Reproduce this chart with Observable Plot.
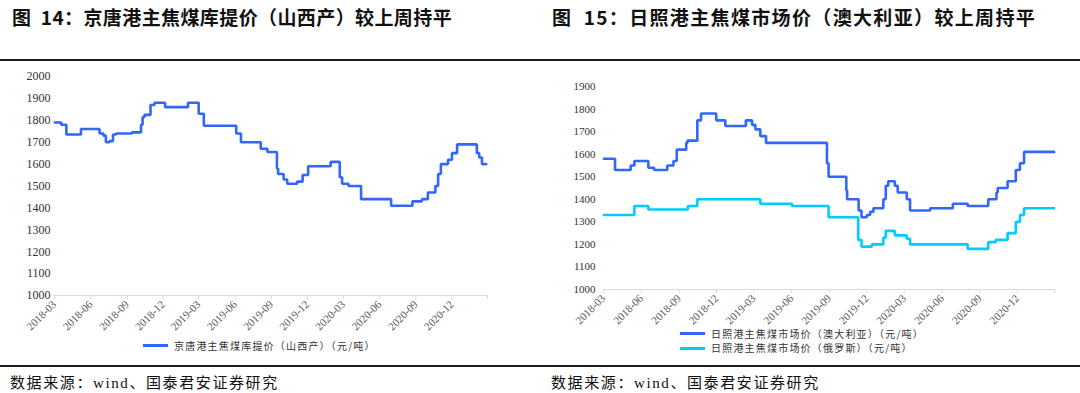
<!DOCTYPE html>
<html>
<head>
<meta charset="utf-8">
<script src="https://cdn.jsdelivr.net/npm/d3@7"></script>
<script src="https://cdn.jsdelivr.net/npm/@observablehq/plot@0.6"></script>
<style>
  html, body { margin: 0; padding: 0; background: #fff; }
  #page { position: relative; width: 1080px; height: 393px; overflow: hidden; font-family: "Liberation Serif", "Noto Sans CJK SC", serif; }
  .title { position: absolute; top: 6px; font-family: "Noto Sans CJK SC", sans-serif; font-weight: 700; font-size: 19px; line-height: 22px; color: #111; white-space: nowrap; }
  .rule { position: absolute; left: 0; width: 1080px; height: 2px; background: #1a1a1a; }
  .chart { position: absolute; top: 60px; }
  .legend { position: absolute; font-family: "Noto Sans CJK SC", sans-serif; font-size: 10px; line-height: 14.5px; letter-spacing: 1.2px; color: #333; white-space: nowrap; }
  .legend .item { position: relative; height: 14.5px; }
  .legend .sw { display: inline-block; width: 25px; height: 3px; vertical-align: middle; margin-right: 6px; position: relative; top: -1px; }
  .source { position: absolute; top: 374px; font-family: "Noto Sans CJK SC", sans-serif; font-size: 15px; line-height: 16px; letter-spacing: 1.6px; color: #111; white-space: nowrap; }
</style>
</head>
<body>
<div id="page">
  <div class="title" style="left:12px; letter-spacing:0.4px">图&nbsp;&nbsp;14：京唐港主焦煤库提价（山西产）较上周持平</div>
  <div class="title" style="left:552px; letter-spacing:1.35px">图&nbsp;&nbsp;15：日照港主焦煤市场价（澳大利亚）较上周持平</div>
  <div class="rule" style="top:59px"></div>
  <div id="left" class="chart" style="left:0px"></div>
  <div id="right" class="chart" style="left:540px"></div>
  <div class="legend" id="legL" style="left:143px; top:338.5px"></div>
  <div class="legend" id="legR" style="left:680px; top:326.5px"></div>
  <div class="rule" style="top:365px"></div>
  <div class="source" style="left:10px">数据来源：<span style="font-family:'Liberation Serif'">wind</span>、国泰君安证券研究</div>
  <div class="source" style="left:551px">数据来源：<span style="font-family:'Liberation Serif'">wind</span>、国泰君安证券研究</div>
</div>
<script>
// ---- Data ----
const tickLabels = ["2018-03","2018-06","2018-09","2018-12","2019-03","2019-06","2019-09","2019-12","2020-03","2020-06","2020-09","2020-12","2021-03"];
const axisStart = "2018-03-01";
const axisEnd = "2021-03-01";

// 京唐港主焦煤库提价（山西产） step change points
const jtDates = ["2018-03-02","2018-03-18","2018-03-31","2018-05-07","2018-06-23","2018-07-03","2018-07-09","2018-07-18","2018-07-27","2018-08-04","2018-09-13","2018-10-06","2018-10-10","2018-10-15","2018-10-30","2018-11-09","2018-12-06","2019-02-02","2019-03-01","2019-03-14","2019-06-04","2019-06-16","2019-08-05","2019-08-22","2019-09-15","2019-09-18","2019-10-02","2019-10-11","2019-11-05","2019-11-19","2019-12-03","2020-01-29","2020-02-21","2020-02-27","2020-03-14","2020-04-15","2020-06-30","2020-08-23","2020-09-16","2020-10-01","2020-10-20","2020-10-27","2020-11-03","2020-11-21","2020-12-01","2020-12-14","2021-02-02","2021-02-08","2021-02-15","2021-02-26"];
const jtValues = [1790,1780,1735,1760,1740,1730,1700,1705,1735,1740,1745,1780,1815,1825,1870,1880,1860,1880,1830,1775,1740,1700,1670,1655,1580,1555,1530,1510,1520,1550,1590,1610,1540,1510,1500,1440,1410,1430,1440,1470,1500,1555,1600,1620,1650,1690,1650,1630,1600,1600];

// 日照港主焦煤市场价（澳大利亚）
const ausDates = ["2018-03-02","2018-03-29","2018-05-06","2018-05-15","2018-06-18","2018-07-02","2018-08-03","2018-08-18","2018-08-26","2018-09-18","2018-09-21","2018-10-15","2018-10-24","2018-11-30","2018-12-22","2019-02-10","2019-02-25","2019-03-05","2019-03-17","2019-03-31","2019-08-26","2019-08-30","2019-10-12","2019-10-14","2019-11-11","2019-11-18","2019-12-01","2019-12-09","2019-12-17","2020-01-10","2020-01-16","2020-01-22","2020-02-07","2020-02-14","2020-03-07","2020-03-15","2020-05-03","2020-06-27","2020-08-02","2020-09-21","2020-10-11","2020-10-14","2020-11-07","2020-11-27","2020-12-07","2020-12-17","2021-02-28"];
const ausValues = [1580,1530,1550,1570,1540,1530,1550,1570,1620,1650,1660,1750,1780,1750,1725,1750,1730,1710,1680,1650,1560,1500,1440,1400,1350,1320,1330,1345,1360,1400,1460,1480,1460,1430,1400,1350,1360,1380,1370,1400,1430,1450,1480,1530,1560,1610,1610];

// 日照港主焦煤市场价（俄罗斯）
const rusDates = ["2018-03-02","2018-05-15","2018-06-18","2018-09-22","2018-10-15","2019-03-17","2019-06-02","2019-08-30","2019-11-10","2019-11-18","2019-12-13","2020-01-10","2020-01-16","2020-02-07","2020-03-07","2020-03-15","2020-08-02","2020-09-21","2020-10-09","2020-11-07","2020-11-27","2020-12-07","2020-12-17","2021-02-28"];
const rusValues = [1330,1370,1355,1370,1400,1380,1370,1320,1220,1190,1200,1230,1260,1240,1225,1200,1180,1210,1220,1250,1300,1330,1360,1360];

const leftYTicks = [1000,1100,1200,1300,1400,1500,1600,1700,1800,1900,2000];
const rightYTicks = [1000,1100,1200,1300,1400,1500,1600,1700,1800,1900];

const legendLeft = ["京唐港主焦煤库提价（山西产）（元/吨）"];
const legendRight = ["日照港主焦煤市场价（澳大利亚）（元/吨）", "日照港主焦煤市场价（俄罗斯）（元/吨）"];
const colorBlue = "#3366ff";
const colorCyan = "#00ccff";

// ---- Build ----
const parse = s => new Date(s + "T00:00:00Z");
const tickDates = tickLabels.map(t => parse(t + "-01"));
const fmt = d3.utcFormat("%Y-%m");
const lastTick = tickDates[tickDates.length - 1].getTime();
const toRows = (dates, values) => dates.map((d, i) => ({date: parse(d), value: values[i]}));

function makeChart({series, yTicks, yDomain, ml, mr, mt, mb, yFont, yPad}) {
  return Plot.plot({
    width: 540,
    height: 280,
    marginLeft: ml, marginRight: mr, marginTop: mt, marginBottom: mb,
    style: {fontFamily: "Liberation Serif, serif", fontSize: "11px", color: "#404040", background: "transparent"},
    x: {type: "utc", domain: [parse(axisStart), parse(axisEnd)]},
    y: {domain: yDomain},
    marks: [
      Plot.axisY({ticks: yTicks, tickSize: 0, tickPadding: yPad, tickFormat: d => String(d), fontSize: yFont, fill: "#333", label: null}),
      Plot.ruleY([yDomain[0]], {stroke: "#d9d9d9", strokeWidth: 1.2}),
      Plot.axisX({ticks: tickDates, tickSize: 4, tickPadding: 3, tickRotate: -45, stroke: "#d9d9d9", fill: "#595959", fontSize: 11, label: null,
        tickFormat: d => d.getTime() === lastTick ? "" : fmt(d)}),
      ...series.map(s => Plot.line(s.rows, {x: "date", y: "value", curve: "step-after", stroke: s.color, strokeWidth: 2.6, strokeLinejoin: "miter"}))
    ]
  });
}

document.getElementById("left").append(makeChart({
  series: [{rows: toRows(jtDates, jtValues), color: colorBlue}],
  yTicks: leftYTicks, yDomain: [1000, 2000], ml: 54, mr: 53, mt: 16, mb: 45, yFont: 12, yPad: 4
}));
document.getElementById("right").append(makeChart({
  series: [
    {rows: toRows(ausDates, ausValues), color: colorBlue},
    {rows: toRows(rusDates, rusValues), color: colorCyan}
  ],
  yTicks: rightYTicks, yDomain: [1000, 1900], ml: 63, mr: 26, mt: 26, mb: 51, yFont: 11, yPad: 8
}));

function legend(el, labels, colors) {
  labels.forEach((l, i) => {
    const div = document.createElement("div");
    div.className = "item";
    const sw = document.createElement("span");
    sw.className = "sw";
    sw.style.background = colors[i];
    div.append(sw, document.createTextNode(l));
    el.append(div);
  });
}
legend(document.getElementById("legL"), legendLeft, [colorBlue]);
legend(document.getElementById("legR"), legendRight, [colorBlue, colorCyan]);
</script>
</body>
</html>
